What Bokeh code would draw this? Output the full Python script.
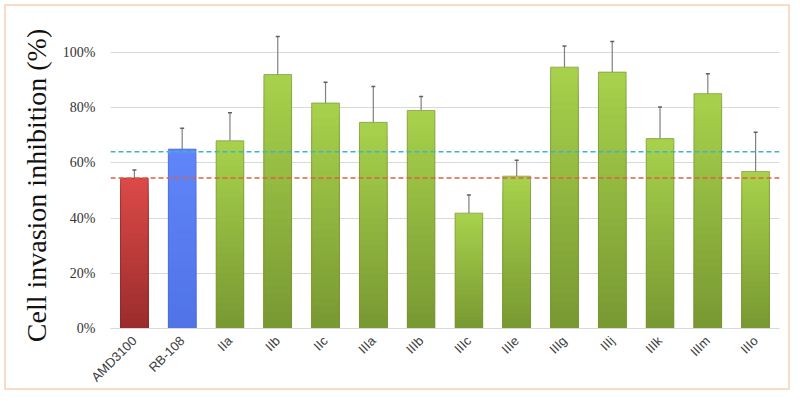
from bokeh.plotting import figure
from bokeh.models import (ColumnDataSource, Range1d, FixedTicker, NumeralTickFormatter,
                          Span, Whisker, TeeHead)
from bokeh.embed import file_html
from bokeh.resources import INLINE
import math

# ---- data (fractions) ----
compounds = ["AMD3100", "RB-108", "IIa", "IIb", "IIc", "IIIa", "IIIb",
             "IIIc", "IIIe", "IIIg", "IIIj", "IIIk", "IIIm", "IIIo"]
inhibition = [0.545, 0.650, 0.680, 0.920, 0.817, 0.747, 0.790,
              0.418, 0.552, 0.947, 0.929, 0.688, 0.851, 0.569]
error_up = [0.029, 0.076, 0.102, 0.138, 0.075, 0.130, 0.051,
            0.066, 0.058, 0.077, 0.111, 0.115, 0.072, 0.142]
ref_amd3100 = 0.545
ref_rb108 = 0.640
y_ticks = [0.0, 0.2, 0.4, 0.6, 0.8, 1.0]

# bar colour gradients (top colour, bottom colour)
grad = {"AMD3100": ((0xdc, 0x4a, 0x48), (0x9a, 0x2c, 0x2c)),
        "RB-108": ((0x60, 0x85, 0xfa), (0x50, 0x74, 0xe6))}
green = ((0xa8, 0xd2, 0x4c), (0x78, 0x98, 0x32))
edge = {"AMD3100": "#8a2a2a", "RB-108": "#4a6ad6"}

p = figure(x_range=compounds, y_range=Range1d(0, 1.087), width=786, height=386,
           output_backend="svg", toolbar_location=None,
           min_border_left=104, min_border_right=13, min_border_top=22, min_border_bottom=63)
p.styles = {"border": "2px solid #f8dcc6", "margin": "4px"}
p.outline_line_color = None
p.xgrid.grid_line_color = None
p.ygrid.grid_line_color = "#d9d9d9"
p.ygrid.grid_line_width = 1
p.background_fill_color = "white"
p.border_fill_color = "white"

# gradient bars: overlapping columns from 0; tallest (top colour) drawn first,
# shorter and darker columns drawn over them
N = 30
xs, tops, cols = [], [], []
for k in range(N, 0, -1):
    for name, v in zip(compounds, inhibition):
        top_c, bot_c = grad.get(name, green)
        t = (k - 0.5) / N
        c = tuple(int(round(bot_c[i] + (top_c[i] - bot_c[i]) * t)) for i in range(3))
        xs.append(name)
        tops.append(v * k / N)
        cols.append("#%02x%02x%02x" % c)
p.vbar(x=xs, bottom=0, top=tops, width=0.58, fill_color=cols, line_color=None)

edges = [edge.get(n, "#7a9436") for n in compounds]
src = ColumnDataSource(dict(x=compounds, top=inhibition, edge=edges,
                            upper=[v + e for v, e in zip(inhibition, error_up)]))
p.vbar(x="x", top="top", width=0.58, fill_color=None, line_color="edge",
       line_width=1, line_alpha=0.7, source=src)

# dashed reference lines
p.add_layout(Span(location=ref_rb108, dimension="width", line_color="#3fb3c8",
                  line_dash="5 3", line_width=1.5))
p.add_layout(Span(location=ref_amd3100, dimension="width", line_color="#e0603e",
                  line_dash="5 3", line_width=1.5))

# error bars (upper only)
w = Whisker(base="x", lower="top", upper="upper", source=src,
            line_color="#808080", line_width=1.2,
            upper_head=TeeHead(size=4, line_color="#606060", line_width=1.5),
            lower_head=None)
p.add_layout(w)

# axes
p.yaxis.ticker = FixedTicker(ticks=y_ticks)
p.yaxis.formatter = NumeralTickFormatter(format="0%")
p.yaxis.axis_line_color = None
p.yaxis.major_tick_line_color = None
p.yaxis.minor_tick_line_color = None
p.yaxis.major_label_text_font = "Liberation Serif"
p.yaxis.major_label_text_font_size = "14px"
p.yaxis.major_label_text_color = "#333333"
p.yaxis.major_label_standoff = 9
p.yaxis.axis_label = "Cell invasion  inhibition  (%)"
p.yaxis.axis_label_text_font = "Liberation Serif"
p.yaxis.axis_label_text_font_style = "normal"
p.yaxis.axis_label_text_font_size = "28px"
p.yaxis.axis_label_text_color = "#111111"
p.yaxis.axis_label_standoff = 8

p.xaxis.axis_line_color = "#d9d9d9"
p.xaxis.major_tick_line_color = None
p.xaxis.minor_tick_line_color = None
p.xaxis.major_label_orientation = math.pi / 4
p.xaxis.major_label_text_font = "Liberation Sans"
p.xaxis.major_label_text_font_size = "13px"
p.xaxis.major_label_text_color = "#404040"
p.xaxis.major_label_standoff = 4

open("out.html", "w").write(file_html(p, INLINE))
